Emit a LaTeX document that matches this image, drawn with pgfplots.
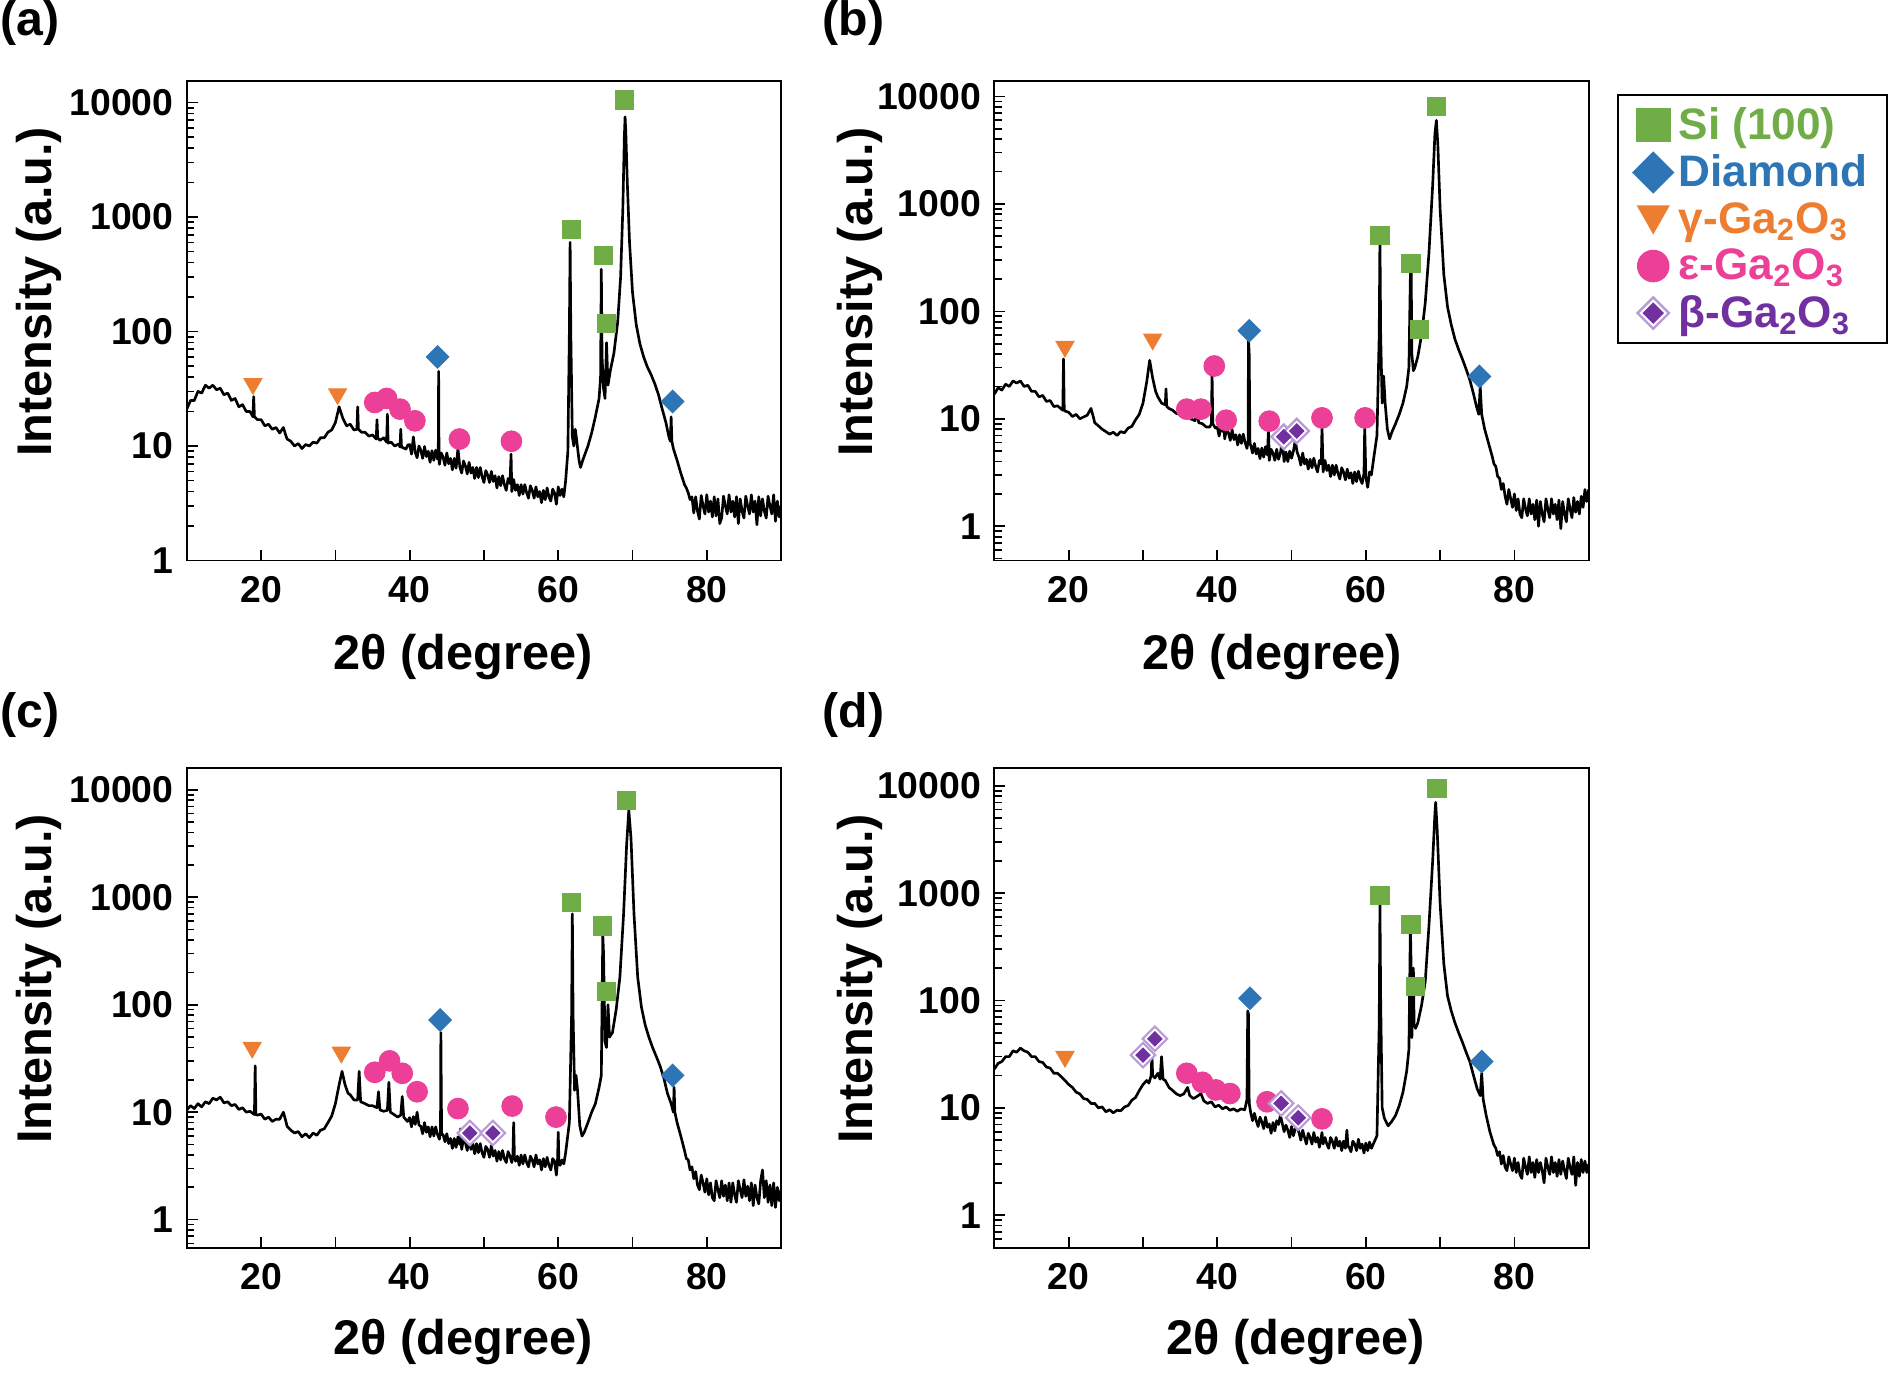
\documentclass[border=0pt]{standalone}
\usepackage{fontspec}
\setmainfont{Liberation Sans}
\usepackage{pgfplots}
\pgfplotsset{compat=1.18}

\definecolor{siGreen}{RGB}{112,173,71}
\definecolor{diaBlue}{RGB}{46,117,182}
\definecolor{gamOrange}{RGB}{237,125,49}
\definecolor{epsPink}{RGB}{236,64,152}
\definecolor{betaPurple}{RGB}{112,48,160}
\definecolor{betaLight}{RGB}{185,155,215}

\tikzset{
  xrdline/.style={black, line width=1.1pt, line join=round, mark=none},
  mSi/.style={only marks, mark=square*, mark size=3.8pt, color=siGreen},
  mDia/.style={only marks, mark=square*, mark options={rotate=45}, mark size=3.3pt, color=diaBlue},
  mGam/.style={only marks, mark=triangle*, mark options={rotate=180}, mark size=4.3pt, color=gamOrange},
  mEps/.style={only marks, mark=*, mark size=4.3pt, color=epsPink},
  mBout/.style={only marks, mark=square*, mark size=3.6pt,
    mark options={rotate=45, fill=white, draw=betaLight, line width=0.9pt}},
  mBin/.style={only marks, mark=square*, mark size=2.1pt,
    mark options={rotate=45, fill=betaPurple, draw=betaPurple}},
  plab/.style={font=\bfseries\fontsize{20}{22}\selectfont, anchor=west, inner sep=0pt},
}

\newcommand{\tickfont}{\bfseries\fontsize{15.5}{16}\selectfont}
\newcommand{\labfont}{\bfseries\fontsize{20.2}{22}\selectfont}
\newcommand{\legfont}{\bfseries\fontsize{18.3}{19}\selectfont}

% common axis options (typed out once per panel below)
\newcommand{\minorlist}{0.5,0.6,0.7,0.8,0.9,2,3,4,5,6,7,8,9,20,30,40,50,60,70,80,90,200,300,400,500,600,700,800,900,2000,3000,4000,5000,6000,7000,8000,9000}

\begin{document}
\begin{tikzpicture}
\path (0,0) rectangle (784pt,-569.5pt);
\node[plab] at (0pt,-9.5pt) {(a)};
\node[plab] at (341pt,-9.5pt) {(b)};
\node[plab] at (0pt,-296.5pt) {(c)};
\node[plab] at (341pt,-296.5pt) {(d)};

% ---------------- (a)
\begin{axis}[at={(77.5pt,-232.5pt)}, anchor=south west,
  ymode=log, scale only axis, width=246.5pt, height=199pt,
  xmin=10, xmax=90, ymin=1, ymax=15500,
  xtick={20,30,40,50,60,70,80}, xticklabels={20,,40,,60,,80},
  ytick={1,10,100,1000,10000}, yticklabels={1,10,100,1000,10000},
  minor ytick/.expanded={\minorlist},
  tick pos=left, tick align=inside,
  major tick length=4.5pt, minor tick length=3pt,
  axis line style={line width=0.8pt},
  tick style={line width=0.7pt, black},
  tick label style={font=\tickfont},
  xticklabel style={yshift=-3pt}, yticklabel style={xshift=-2pt},
  xlabel={2θ (degree)}, ylabel={Intensity (a.u.)},
  label style={font=\labfont},
  xlabel style={at={(axis description cs:0.465,-0.201)}, anchor=center},
  ylabel style={at={(axis description cs:-0.249,0.56)}, anchor=center}]
\addplot[xrdline] coordinates {
(10,21)(10.5,25)(11,25)(11.5,30)(12,29)(12.5,34)(13,32)(13.5,34)(14,31)(14.5,32)
(15,28)(15.5,29)(16,25)(16.5,26)(17,22)(17.5,23)(18,20)(18.5,20)(18.9,18)(19,27)
(19.1,18)(19.5,17)(20,17)(20.5,15)(21,15.5)(21.5,14)(22,14.5)(22.5,13)(23,14.5)(23.3,12.5)
(23.5,11.5)(24,11)(24.5,10)(25,10.5)(25.5,9.5)(26,10.3)(26.5,10)(27,10.8)(27.5,10.6)(28,11.8)
(28.5,11.8)(29,13.2)(29.5,13.8)(30,16)(30.5,22)(31,17.5)(31.5,15)(32,15.5)(32.5,13.8)(32.9,14)
(33,22)(33.1,14)(33.5,13.2)(34,13.2)(34.5,12.2)(35,12.5)(35.5,11.5)(35.6,17)(35.7,11.8)(36,11.2)
(36.5,11.8)(36.9,10.8)(37,19)(37.1,10.6)(37.5,10.8)(38,10)(38.5,10.4)(38.7,9.8)(38.8,14)(38.9,9.8)
(39.5,9.4)(39.75,10.2)
(40,10.3)(40.25,8.5)(40.5,12)(40.75,8.8)(41,7.9)(41.25,10)(41.5,9.2)(41.75,7.8)(42,9.9)(42.25,8.1)
(42.5,9)(42.75,7.2)(43,9.1)(43.25,7.5)(43.5,9.2)(43.75,7.7)(43.85,8.2)(43.9,45)(43.95,8)(44,6.9)
(44.25,8.7)(44.5,8)(44.75,6.8)(45,8.7)(45.25,7)(45.5,7.8)(45.75,6.2)(46,7.8)(46.25,6.4)(46.5,9.5)
(46.75,6.6)(47,5.8)(47.25,7.4)(47.5,6.7)(47.75,5.7)(48,7.2)(48.25,5.8)(48.5,6.5)(48.75,5.2)(49,6.5)
(49.25,5.3)(49.5,6.5)(49.75,5.4)(50,4.8)(50.25,6.1)(50.5,5.6)(50.75,4.8)(51,6)(51.25,4.9)(51.5,5.5)
(51.75,4.3)(52,5.4)(52.25,4.5)(52.5,5.5)(52.75,4.6)(53,4.1)(53.25,5.2)(53.5,4.7)(53.65,8.5)(53.75,4)
(54,5.1)(54.25,4.1)(54.5,4.6)(54.75,3.7)(55,4.6)(55.25,3.8)(55.5,4.6)(55.75,3.9)(56,3.5)(56.25,4.5)
(56.5,4.1)(56.75,3.5)(57,4.4)(57.25,3.6)(57.5,4)(57.75,3.2)(58,4.1)(58.25,3.4)(58.5,4.3)(58.75,3.6)
(59,3.3)(59.25,4.2)(59.5,3.9)(59.75,3.1)(60,4.4)(60.25,3.7)(60.5,4.2)(60.75,3.6)(61,5)
(61.3,9)(61.5,100)(61.6,600)(61.7,90)(61.9,12)(62.1,10)(62.3,14)(62.5,11)(62.8,7.5)(63,6.5)
(63.3,7.5)(63.6,8.5)(64,10)(64.5,13)(65,18)(65.5,26)(65.7,40)(65.8,350)(65.9,60)(66.1,32)
(66.3,26)(66.5,80)(66.7,34)(67,45)(67.5,65)(68,120)(68.4,300)(68.7,1200)(68.9,5000)(69,7500)
(69.1,5500)(69.3,2000)(69.6,600)(70,220)(70.5,115)(71,78)(71.5,60)(72,49)(72.5,42)(73,35)
(73.5,28)(74,21)(74.5,16)(74.9,12)(75.1,11)(75.2,18)(75.3,11)(75.5,9.5)(76,7.5)(76.5,5.8)
(77,4.6)(77.25,4.3)(77.5,3.9)(77.75,3.4)
(78,3.6)(78.25,2.6)(78.5,3.6)(78.75,2.7)(79,2.3)(79.25,3.7)(79.5,3)(79.75,2.55)(80,3.75)(80.25,2.65)
(80.5,3.3)(80.75,2.4)(81,3.6)(81.25,2.45)(81.5,3.45)(81.75,2.1)(82,2.35)(82.25,3.65)(82.5,3)(82.75,2.55)
(83,3.75)(83.25,2.65)(83.5,3.3)(83.75,2.4)(84,3.6)(84.25,2.1)(84.5,3.45)(84.75,2.7)(85,2.35)(85.25,3.65)
(85.5,3)(85.75,2.55)(86,3.75)(86.25,2.65)(86.5,3.3)(86.75,2.05)(87,3.6)(87.25,2.45)(87.5,3.45)(87.75,2.7)
(88,2.35)(88.25,3.65)(88.5,3)(88.75,2.55)(89,3.75)(89.25,2.2)(89.5,3.3)(89.75,2.4)(90,3)
};
\addplot[mSi] coordinates {(61.8,780)(66.1,460)(66.5,118)(68.9,10500)};
\addplot[mDia] coordinates {(43.75,60)(75.4,24.5)};
\addplot[mGam] coordinates {(18.9,35)(30.3,28.5)};
\addplot[mEps] coordinates {(35.3,24)(36.9,26)(38.7,21)(40.7,16.6)(46.7,11.5)(53.7,11)};
\end{axis}

% ---------------- (b)
\begin{axis}[at={(412.5pt,-232.5pt)}, anchor=south west,
  ymode=log, scale only axis, width=246.5pt, height=199pt,
  xmin=10, xmax=90, ymin=0.48, ymax=14000,
  xtick={20,30,40,50,60,70,80}, xticklabels={20,,40,,60,,80},
  ytick={1,10,100,1000,10000}, yticklabels={1,10,100,1000,10000},
  minor ytick/.expanded={\minorlist},
  tick pos=left, tick align=inside,
  major tick length=4.5pt, minor tick length=3pt,
  axis line style={line width=0.8pt},
  tick style={line width=0.7pt, black},
  tick label style={font=\tickfont},
  xticklabel style={yshift=-3pt}, yticklabel style={xshift=-2pt},
  xlabel={2θ (degree)}, ylabel={Intensity (a.u.)},
  label style={font=\labfont},
  xlabel style={at={(axis description cs:0.467,-0.201)}, anchor=center},
  ylabel style={at={(axis description cs:-0.226,0.56)}, anchor=center},
  legend style={at={(axis description cs:1.048,0.972)}, anchor=north west,
    draw=black, line width=0.7pt, inner xsep=6pt, inner ysep=3pt,
    row sep=1pt, font=\legfont},
  legend cell align=left]
\addlegendimage{legend image code/.code={\fill[siGreen] (0pt,-6.85pt) rectangle (13.7pt,6.85pt);}}
\addlegendentry{\textcolor{siGreen}{Si (100)}}
\addlegendimage{legend image code/.code={\fill[diaBlue] (6.85pt,-8.25pt) -- (15.1pt,0pt) -- (6.85pt,8.25pt) -- (-1.4pt,0pt) -- cycle;}}
\addlegendentry{\textcolor{diaBlue}{Diamond}}
\addlegendimage{legend image code/.code={\fill[gamOrange] (0.6pt,5.5pt) -- (13.1pt,5.5pt) -- (6.85pt,-5.5pt) -- cycle;}}
\addlegendentry{\textcolor{gamOrange}{γ-Ga\textsubscript{2}O\textsubscript{3}}}
\addlegendimage{legend image code/.code={\fill[epsPink] (6.85pt,0pt) circle (6.4pt);}}
\addlegendentry{\textcolor{epsPink}{ε-Ga\textsubscript{2}O\textsubscript{3}}}
\addlegendimage{legend image code/.code={
  \draw[betaLight, fill=white, line width=1pt] (6.85pt,-6.5pt) -- (13.35pt,0pt) -- (6.85pt,6.5pt) -- (0.35pt,0pt) -- cycle;
  \fill[betaPurple] (6.85pt,-4pt) -- (10.85pt,0pt) -- (6.85pt,4pt) -- (2.85pt,0pt) -- cycle;}}
\addlegendentry{\textcolor{betaPurple}{β-Ga\textsubscript{2}O\textsubscript{3}}}
\addplot[xrdline, forget plot] coordinates {
(10,17)(10.5,19.5)(11,18.5)(11.5,21)(12,20)(12.5,22.5)(13,21.5)(13.5,22.5)(14,20)(14.5,20.5)
(15,18)(15.5,18)(16,16)(16.5,16.5)(17,14.5)(17.5,14.8)(18,13)(18.5,13.2)(19.2,12)(19.3,36)
(19.4,12)(19.5,11.8)(20,11.5)(20.5,10.5)(21,11)(21.5,10)(22,10.4)(22.5,10.8)(23,12.5)(23.3,10.5)
(23.5,9.2)(24,8.6)(24.5,8)(25,7.6)(25.5,7.2)(26,7.5)(26.5,7)(27,7.6)(27.5,7.4)(28,8.2)
(28.5,8.5)(29,9.8)(29.5,11)(30,14)(30.5,22)(30.9,35)(31.3,24)(31.7,18)(32,16)(32.5,14)
(33,13.5)(33.1,19)(33.2,13)(33.5,12.5)(34,12)(34.5,11.2)(35,11)(35.5,10.2)(36,10.5)(36.2,12)
(36.4,10)(37,9.6)(37.3,11.5)(37.5,9.2)(38,9)(38.5,8.4)(39,8.4)(39.2,9)(39.3,26)(39.4,9)
(39.75,8.2)
(40,8.4)(40.25,6.9)(40.5,8.5)(40.75,7.6)(40.85,10)(41,6.5)(41.25,8.1)(41.5,7.4)(41.75,6.3)(42,7.9)
(42.25,6.4)(42.5,7.1)(42.75,5.7)(43,7.1)(43.25,5.9)(43.5,7.2)(43.75,6)(44,5.3)(44.15,6.2)(44.2,55)
(44.3,40)(44.4,5.8)(44.5,5.7)(44.75,4.8)(45,5.9)(45.25,4.7)(45.5,5.3)(45.75,4.25)(46,5.35)(46.25,4.4)
(46.5,5.5)(46.75,4.6)(46.9,8.2)(47,4.1)(47.25,5.2)(47.5,4.8)(47.75,4.1)(48,5.2)(48.25,4.2)(48.5,4.8)
(48.75,6.2)(49,4)(49.25,4.9)(49.5,4)(49.75,5)(50,4.3)(50.25,5)(50.5,6.3)(50.75,4.9)(51,4.4)
(51.25,3.7)(51.5,4.8)(51.75,3.8)(52,4.2)(52.25,3.4)(52.5,4.2)(52.75,3.5)(53,4.3)(53.25,3.6)(53.5,3.2)
(53.75,4.1)(54,3.8)(54.1,8.5)(54.25,3.2)(54.5,4.1)(54.75,3.3)(55,3.7)(55.25,2.9)(55.5,3.7)(55.75,3)
(56,3.7)(56.25,3.1)(56.5,2.75)(56.75,3.5)(57,3.2)(57.25,2.7)(57.5,3.4)(57.75,2.8)(58,3.15)(58.25,2.5)
(58.5,3.2)(58.75,2.6)(59,3.25)(59.25,2.75)(59.5,2.5)(59.75,3.1)(59.85,8.5)(60,2.9)(60.25,2.3)(60.5,3.2)
(60.75,3)(61,4)
(61.5,7)(61.8,60)(61.9,500)(62,60)(62.2,14)(62.4,25)(62.6,14)(62.9,8)(63.2,6.5)(63.5,7.5)
(64,9)(64.5,11)(65,14)(65.5,20)(65.8,30)(66,220)(66.1,260)(66.2,40)(66.4,28)(66.6,30)
(67,38)(67.5,60)(68,120)(68.5,350)(69,1500)(69.3,4500)(69.5,6000)(69.7,3500)(70,900)(70.5,220)
(71,110)(71.5,75)(72,55)(72.5,44)(73,36)(73.5,29)(74,23)(74.5,17)(74.9,13)(75.2,11)
(75.4,20)(75.6,11)(76,8)(76.5,6)
(77,4.5)(77.25,3.8)(77.5,3.6)(77.75,2.9)(78,2.8)(78.25,2.2)(78.5,2.5)(78.75,1.9)(79,1.6)(79.25,2.2)
(79.5,1.8)(79.75,1.5)(80,2)(80.25,1.4)(80.5,1.8)(80.75,1.3)(81,1.2)(81.25,1.8)(81.5,1.45)(81.75,1.25)
(82,1.8)(82.25,1.3)(82.5,1.6)(82.75,1.15)(83,1.75)(83.25,1)(83.5,1.7)(83.75,1.3)(84,1.1)(84.25,1.8)
(84.5,1.45)(84.75,1.2)(85,1.8)(85.25,1.3)(85.5,1.6)(85.75,1.15)(86,1.75)(86.25,0.95)(86.5,1.7)(86.75,1.3)
(87,1.1)(87.25,1.8)(87.5,1.45)(87.75,1.2)(88,1.85)(88.25,1.35)(88.5,1.7)(88.75,1.3)(89,1.9)(89.25,1.5)
(89.5,2.2)(89.75,1.7)(90,2.2)
};
\addplot[mSi, forget plot] coordinates {(61.9,510)(66.1,280)(67.2,68)(69.5,8100)};
\addplot[mDia, forget plot] coordinates {(44.3,66)(75.3,24.8)};
\addplot[mGam, forget plot] coordinates {(19.5,47)(31.3,55)};
\addplot[mEps, forget plot] coordinates {(39.6,31)(35.9,12.3)(37.8,12.3)(41.2,9.7)(47.0,9.5)(54.1,10.2)(59.9,10.2)};
\addplot[mBout, forget plot] coordinates {(48.95,6.8)(50.7,7.7)};
\addplot[mBin, forget plot] coordinates {(48.95,6.8)(50.7,7.7)};
\end{axis}

% ---------------- (c)
\begin{axis}[at={(77.5pt,-517.5pt)}, anchor=south west,
  ymode=log, scale only axis, width=246.5pt, height=199pt,
  xmin=10, xmax=90, ymin=0.55, ymax=16000,
  xtick={20,30,40,50,60,70,80}, xticklabels={20,,40,,60,,80},
  ytick={1,10,100,1000,10000}, yticklabels={1,10,100,1000,10000},
  minor ytick/.expanded={\minorlist},
  tick pos=left, tick align=inside,
  major tick length=4.5pt, minor tick length=3pt,
  axis line style={line width=0.8pt},
  tick style={line width=0.7pt, black},
  tick label style={font=\tickfont},
  xticklabel style={yshift=-3pt}, yticklabel style={xshift=-2pt},
  xlabel={2θ (degree)}, ylabel={Intensity (a.u.)},
  label style={font=\labfont},
  xlabel style={at={(axis description cs:0.465,-0.196)}, anchor=center},
  ylabel style={at={(axis description cs:-0.249,0.56)}, anchor=center}]
\addplot[xrdline] coordinates {
(10,10.5)(10.5,11.5)(11,10.8)(11.5,12)(12,11.2)(12.5,12.5)(13,12)(13.5,13.5)(14,13)(14.5,13.8)
(15,12.2)(15.5,12.5)(16,11.5)(16.5,11.8)(17,10.6)(17.5,11)(18,10)(18.5,10.2)(19.1,9.5)(19.2,27)
(19.3,9.5)(19.5,9.4)(20,9.6)(20.5,8.6)(21,9)(21.5,8.2)(22,8.6)(22.5,8.6)(23,10)(23.3,8.4)
(23.5,7.4)(24,6.8)(24.5,6.4)(25,6.6)(25.5,5.9)(26,6.3)(26.5,5.8)(27,6.4)(27.5,6.1)(28,6.8)
(28.5,7)(29,8)(29.5,9.2)(30,12)(30.5,18)(30.9,24)(31.3,18)(31.7,15)(32,14.5)(32.5,13)
(33,13)(33.2,24)(33.4,12.5)(34,12)(34.5,11.5)(35,11.5)(35.6,11)(35.8,15.5)(36,10.5)(36.5,10.2)
(37,10.4)(37.2,19)(37.4,10)(37.8,9.6)(38.4,9)(38.8,9.4)(39,14)(39.2,9)(39.7,8.2)
(40,8.9)(40.25,7.3)(40.5,9.1)(40.75,7.7)(41,10)(41.25,7.6)(41.5,7.4)(41.75,6.3)(42,8)(42.25,6.5)
(42.5,7.3)(42.75,5.9)(43,7.3)(43.25,6)(43.5,7.3)(43.75,6.2)(44,5.6)(44.15,6.5)(44.2,55)(44.3,6.2)
(44.5,6.2)(44.75,5.3)(45,6.3)(45.25,5.1)(45.5,5.7)(45.75,4.6)(46,5.7)(46.25,4.7)(46.5,5.9)(46.75,5)
(46.85,7)(47,4.5)(47.25,5.7)(47.5,5.2)(47.75,4.4)(48,5.6)(48.25,4.5)(48.5,5.1)(48.75,4.1)(49,5.1)
(49.25,4.2)(49.5,5.1)(49.75,4.2)(50,3.8)(50.25,4.8)(50.5,4.5)(50.75,3.8)(51,4.9)(51.25,3.9)(51.5,4.4)
(51.75,3.5)(52,4.3)(52.25,3.6)(52.5,4.4)(52.75,3.7)(53,3.4)(53.25,4.3)(53.5,3.9)(53.75,3.4)(53.9,4)
(54,8)(54.1,3.9)(54.25,3.5)(54.5,3.9)(54.75,3.2)(55,4)(55.25,3.3)(55.5,4)(55.75,3.4)(56,3.1)
(56.25,3.9)(56.5,3.6)(56.75,3.1)(57,4)(57.25,3.3)(57.5,3.6)(57.75,2.9)(58,3.7)(58.25,3.1)(58.5,3.8)
(58.75,3.2)(59,2.9)(59.25,3.7)(59.5,3.5)(59.75,2.6)(59.9,3.4)(60,6.5)(60.1,3.4)(60.25,3.2)(60.5,3.6)
(60.75,3.3)(61,4.2)
(61.5,8)(61.8,80)(61.9,700)(62,80)(62.2,16)(62.4,22)(62.6,16)(62.9,7.5)(63.2,6)(63.5,6.5)
(64,8)(64.5,10)(65,12)(65.5,17)(65.8,22)(66,450)(66.1,300)(66.3,45)(66.5,40)(66.7,100)
(66.9,50)(67.3,55)(67.8,90)(68.3,180)(68.8,700)(69.2,3000)(69.5,6500)(69.8,3500)(70.2,700)(70.7,180)
(71.2,95)(71.7,65)(72.2,50)(72.7,40)(73.2,33)(73.7,27)(74.2,21)(74.7,15)(75.2,12)(75.5,10)
(75.6,17)(75.7,10)(76,8)(76.5,6)
(77,4.4)(77.25,3.7)(77.5,3.6)(77.75,2.9)(78,3.1)(78.25,2.4)(78.5,2.8)(78.75,2.1)(79,1.9)(79.25,2.6)
(79.5,2.2)(79.75,1.8)(80,2.4)(80.25,1.7)(80.5,2.2)(80.75,1.6)(81,1.5)(81.25,2.3)(81.5,1.9)(81.75,1.6)
(82,2.3)(82.25,1.65)(82.5,2.1)(82.75,1.5)(83,2.2)(83.25,1.45)(83.5,2.2)(83.75,1.7)(84,1.45)(84.25,2.3)
(84.5,1.9)(84.75,1.6)(85,2.35)(85.25,1.65)(85.5,2.05)(85.75,1.5)(86,2.2)(86.25,1.35)(86.5,2.1)(86.75,1.6)
(87,1.4)(87.25,2.3)(87.5,2.9)(87.75,1.6)(88,2.3)(88.25,1.45)(88.5,2.1)(88.75,1.35)(89,2.2)(89.25,1.3)
(89.5,2)(89.75,1.5)(90,1.9)
};
\addplot[mSi] coordinates {(61.8,900)(66.0,540)(66.5,133)(69.2,7900)};
\addplot[mDia] coordinates {(44.1,72)(75.4,22)};
\addplot[mGam] coordinates {(18.8,40)(30.8,36)};
\addplot[mEps] coordinates {(35.3,23.5)(37.3,30)(39.0,23)(41.0,15.5)(46.5,10.8)(53.8,11.4)(59.7,9)};
\addplot[mBout] coordinates {(48.1,6.4)(51.2,6.4)};
\addplot[mBin] coordinates {(48.1,6.4)(51.2,6.4)};
\end{axis}

% ---------------- (d)
\begin{axis}[at={(412.5pt,-517.5pt)}, anchor=south west,
  ymode=log, scale only axis, width=246.5pt, height=199pt,
  xmin=10, xmax=90, ymin=0.5, ymax=14700,
  xtick={20,30,40,50,60,70,80}, xticklabels={20,,40,,60,,80},
  ytick={1,10,100,1000,10000}, yticklabels={1,10,100,1000,10000},
  minor ytick/.expanded={\minorlist},
  tick pos=left, tick align=inside,
  major tick length=4.5pt, minor tick length=3pt,
  axis line style={line width=0.8pt},
  tick style={line width=0.7pt, black},
  tick label style={font=\tickfont},
  xticklabel style={yshift=-3pt}, yticklabel style={xshift=-2pt},
  xlabel={2θ (degree)}, ylabel={Intensity (a.u.)},
  label style={font=\labfont},
  xlabel style={at={(axis description cs:0.507,-0.196)}, anchor=center},
  ylabel style={at={(axis description cs:-0.226,0.56)}, anchor=center}]
\addplot[xrdline] coordinates {
(10,23)(10.5,26)(11,27)(11.5,30)(12,30)(12.5,34)(13,33)(13.5,36)(14,34)(14.5,33)
(15,30)(15.5,30)(16,27)(16.5,26.5)(17,24)(17.5,23.5)(18,21)(18.5,21)(19,19.5)(19.5,18)
(20,16.5)(20.5,15.5)(21,14)(21.5,13.5)(22,12.2)(22.5,12)(23,11)(23.5,11)(24,10)(24.5,10.2)
(25,9.2)(25.5,9.6)(26,9)(26.5,9.5)(27,9.4)(27.5,10.2)(28,10.5)(28.5,11.8)(29,12.5)(29.5,14.5)
(30,16.5)(30.5,18)(30.8,17)(31.1,20)(31.2,32)(31.3,20)(31.6,19)(32,21)(32.3,18.5)(32.5,30)
(32.7,18.5)(33,18)(33.5,15.5)(34,14.5)(34.5,13.5)(35,13)(35.5,13.5)(36,15.5)(36.3,13)(36.8,12.2)
(37.3,12.8)(37.8,13.6)(38.2,11.6)(38.7,11)(39.2,11.4)(39.7,10.2)(40.2,10.6)(40.7,9.8)(41.2,10.2)(41.7,9.5)
(42.2,9.8)(42.7,9.3)(43.2,9.8)(43.7,9.6)(44,12)(44.1,80)(44.2,75)(44.3,11)
(44.5,9)(44.75,7.6)(45,8.9)(45.25,7.6)(45.5,6.7)(45.75,8.2)(46,7.4)(46.25,6.4)(46.5,8.2)(46.75,6.6)
(47,7.1)(47.25,5.8)(47.5,7.3)(47.75,6.1)(48,7.6)(48.25,7)(48.5,8.5)(48.75,7.2)(49,6)(49.25,6.9)
(49.5,6.2)(49.75,5.3)(50,6.7)(50.25,5.5)(50.5,6.4)(50.75,6.6)(51,5.9)(51.25,5)(51.5,6.2)(51.75,5.3)
(52,4.6)(52.25,5.8)(52.5,5.3)(52.75,4.6)(53,5.9)(53.25,4.8)(53.5,5.3)(53.75,4.3)(54,5.4)(54.1,5.9)
(54.25,4.6)(54.5,5.3)(54.75,4.6)(55,4.2)(55.25,5.3)(55.5,4.9)(55.75,4.2)(56,5.3)(56.25,4.4)(56.5,4.9)
(56.75,4)(57,4.9)(57.25,4.2)(57.45,6.2)(57.6,4.4)(57.75,4.3)(58,3.9)(58.25,4.9)(58.5,4.6)(58.75,4)
(59,5.1)(59.25,4.2)(59.5,4.6)(59.75,3.8)(60,4.7)(60.25,4)(60.5,4.8)(60.75,4.2)(61,4.6)
(61.5,5.5)(61.8,60)(61.9,800)(62,100)(62.2,10)(62.5,8)(63,6.8)(63.5,7.5)(64,8.5)(64.5,10.5)
(65,14)(65.5,22)(65.8,35)(66,500)(66.1,200)(66.2,45)(66.4,200)(66.5,60)(66.7,55)(67,62)
(67.5,90)(68,150)(68.5,500)(69,2000)(69.3,5500)(69.4,7000)(69.6,4000)(70,800)(70.5,220)(71,110)
(71.5,80)(72,62)(72.5,50)(73,41)(73.5,33)(74,27)(74.5,20)(75,15)(75.4,13)(75.6,21)
(75.8,12)(76.2,8.5)(76.7,6)
(77.2,4.6)(77.5,4.2)(77.75,3.6)(78,3.9)(78.25,3)(78.5,3.6)(78.75,2.8)(79,2.6)(79.25,3.5)(79.5,3)
(79.75,2.6)(80,3.4)(80.25,2.5)(80.5,3.1)(80.75,2.4)(81,2.2)(81.25,3.4)(81.5,2.8)(81.75,2.4)(82,3.5)
(82.25,2.5)(82.5,3.1)(82.75,2.25)(83,3.3)(83.25,2.5)(83.5,3.1)(83.75,2.6)(84,2)(84.25,3.4)(84.5,2.8)
(84.75,2.4)(85,3.5)(85.25,2.5)(85.5,3.1)(85.75,2.3)(86,3.3)(86.25,2.4)(86.5,3.2)(86.75,2.6)(87,2.2)
(87.25,3.4)(87.5,2.8)(87.75,2.4)(88,3.5)(88.25,1.9)(88.5,3.1)(88.75,2.3)(89,3.3)(89.25,2.5)(89.5,3.2)
(89.75,2.5)(90,3)
};
\addplot[mSi] coordinates {(61.9,950)(66.1,510)(66.7,136)(69.6,9500)};
\addplot[mDia] coordinates {(44.4,105)(75.6,27)};
\addplot[mGam] coordinates {(19.5,30)};
\addplot[mEps] coordinates {(35.9,21)(38.0,17.3)(39.8,14.7)(41.7,13.6)(46.7,11.4)(54.1,7.9)};
\addplot[mBout] coordinates {(30.0,31)(31.6,44)(48.6,11)(50.9,8.1)};
\addplot[mBin] coordinates {(30.0,31)(31.6,44)(48.6,11)(50.9,8.1)};
\end{axis}
\end{tikzpicture}
\end{document}
